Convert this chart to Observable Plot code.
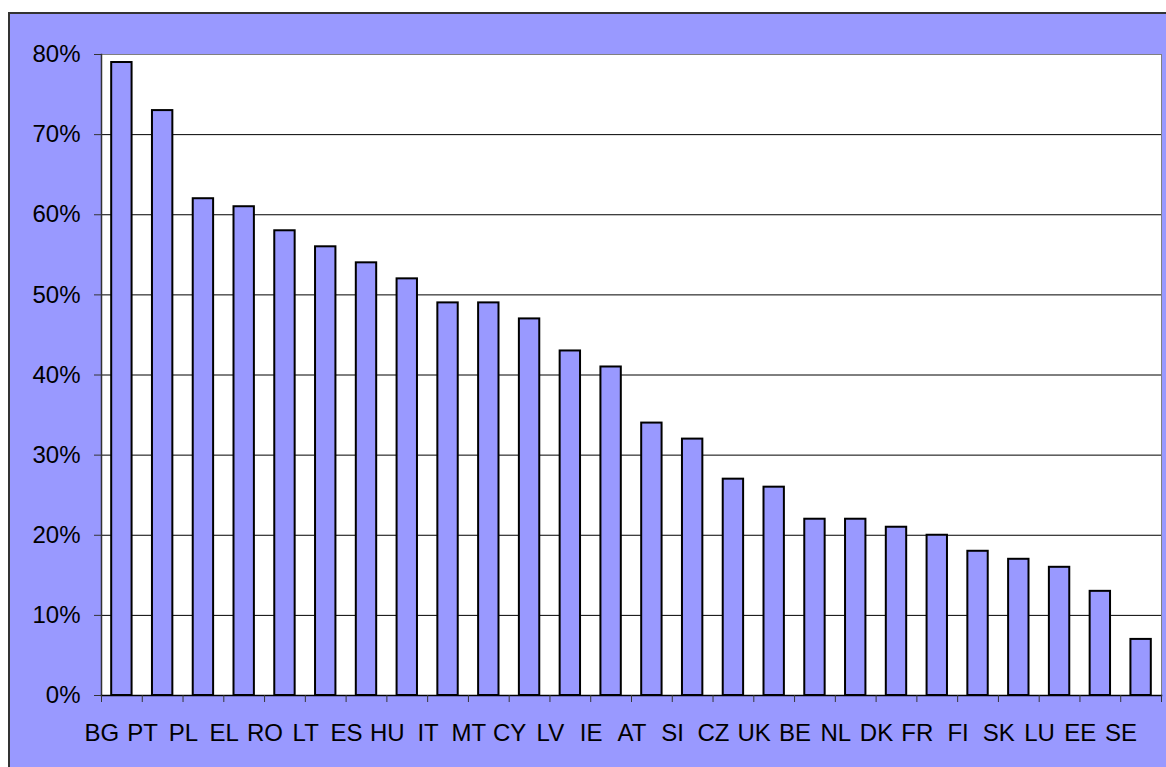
<!DOCTYPE html>
<html>
<head>
<meta charset="utf-8">
<script src="https://cdn.jsdelivr.net/npm/d3@7"></script>
<script src="https://cdn.jsdelivr.net/npm/@observablehq/plot@0.6"></script>
<style>
  html, body { margin: 0; padding: 0; background: white; width: 1166px; height: 767px; overflow: hidden; }
  #box { position: absolute; left: 8px; top: 12px; width: 1200px; height: 800px; background: #9999FF; border: 2px solid #333; }
  #chart { position: absolute; left: 0; top: 0; }
</style>
</head>
<body>
<div id="box"></div>
<div id="chart"></div>
<script>
const categories = ["BG","PT","PL","EL","RO","LT","ES","HU","IT","MT","CY","LV","IE","AT","SI","CZ","UK","BE","NL","DK","FR","FI","SK","LU","EE","SE"];
const values = [0.79,0.73,0.62,0.61,0.58,0.56,0.54,0.52,0.49,0.49,0.47,0.43,0.41,0.34,0.32,0.27,0.26,0.22,0.22,0.21,0.20,0.18,0.17,0.16,0.13,0.07];
const yTicks = [0,0.1,0.2,0.3,0.4,0.5,0.6,0.7,0.8];
const gridTicks = [0.1,0.2,0.3,0.4,0.5,0.6,0.7];

const data = categories.map((c, i) => ({c, v: values[i]}));

const W = 1166, H = 767, ML = 101, MR = 5, MT = 54, MB = 72;
const step = (W - ML - MR) / categories.length;

const chart = Plot.plot({
  width: W, height: H,
  marginLeft: ML, marginRight: MR, marginTop: MT, marginBottom: MB,
  style: {background: "transparent", fontFamily: "'Liberation Sans', Arial, sans-serif", fontSize: "24px", color: "black", overflow: "visible"},
  x: {domain: categories, paddingInner: 0.5, paddingOuter: 0.25, round: false, axis: null},
  y: {domain: [0, 0.8], axis: null},
  marks: [
    Plot.frame({fill: "white", stroke: "#808080"}),
    Plot.ruleY(gridTicks, {stroke: "black", strokeWidth: 1}),
    Plot.barY(data, {x: "c", y: "v", fill: "#9999FF", stroke: "black", strokeWidth: 2}),
    Plot.frame({anchor: "left", stroke: "#333", strokeWidth: 1.5}),
    Plot.frame({anchor: "bottom", stroke: "black", strokeWidth: 1.5}),
    Plot.axisY({ticks: yTicks, tickFormat: d3.format(".0%"), tickSize: 7, tickPadding: 14, fontSize: 24, stroke: "#333", fill: "black", label: null}),
    Plot.axisX({tickSize: 7, tickFormat: () => "", dx: -step / 2, stroke: "#333", label: null}),
    Plot.axisX({ticks: [categories[categories.length - 1]], tickSize: 7, tickFormat: () => "", dx: step / 2, stroke: "#333", label: null}),
    Plot.axisX({tickSize: 0, tickPadding: 28, dx: -20, fontSize: 24, fill: "black", label: null})
  ]
});
document.getElementById("chart").appendChild(chart);
</script>
</body>
</html>
